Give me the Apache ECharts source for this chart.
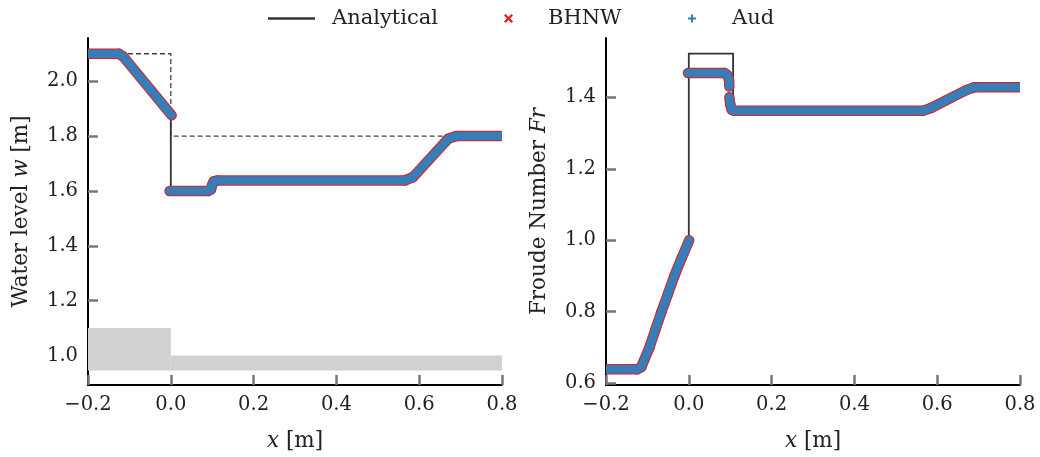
<!DOCTYPE html>
<html>
<head>
<meta charset="utf-8">
<script src="https://cdn.jsdelivr.net/npm/echarts@6/dist/echarts.min.js"></script>
<style>html,body{margin:0;padding:0;background:#fff;}#c{width:1040px;height:457px;}</style>
</head>
<body>
<div id="c"></div>
<script>
// ---------- data ----------
const xTicks = [-0.2, 0.0, 0.2, 0.4, 0.6, 0.8];
const wTicks = [1.0, 1.2, 1.4, 1.6, 1.8, 2.0];
const frTicks = [0.6, 0.8, 1.0, 1.2, 1.4];

// bed (gray blocks): [x0, x1, top, base]
const bedBlocks = [[-0.2, 0.0, 1.1, 0.945], [0.0, 0.8, 1.0, 0.945]];

// dashed initial water level
const initX = [-0.2, 0.0, 0.0, 0.8];
const initW = [2.1, 2.1, 1.8, 1.8];

// analytical water level
const anaWX = [-0.2, -0.12, -0.09, -0.06, -0.03, 0.0, 0.0, 0.107, 0.107, 0.575, 0.6, 0.63, 0.66, 0.68, 0.8];
const anaW  = [2.1, 2.1, 2.047, 1.991, 1.934, 1.876, 1.6, 1.6, 1.638, 1.638, 1.672, 1.716, 1.762, 1.8, 1.8];

// numerical water level (BHNW and Aud overlap)
const numWX = [-0.2, -0.125, -0.115, 0.002, 0.002, -0.003, 0.09, 0.097, 0.1, 0.104, 0.112, 0.565, 0.585, 0.67, 0.69, 0.8];
const numW  = [2.1, 2.1, 2.09, 1.876, '-', 1.6, 1.6, 1.605, 1.622, 1.635, 1.638, 1.638, 1.65, 1.79, 1.8, 1.8];

// analytical Froude number
const anaFX = [-0.2, -0.12, -0.095, -0.066, -0.035, 0.0, 0.0, 0.107, 0.107, 0.575, 0.68, 0.8];
const anaF  = [0.639, 0.639, 0.70, 0.80, 0.90, 0.99, 1.522, 1.522, 1.362, 1.362, 1.428, 1.428];

// numerical Froude number
const numFX = [-0.2, -0.125, -0.115, -0.095, -0.08, -0.066, -0.05, -0.035, -0.017, 0.001, 0.001, -0.002, 0.086, 0.093, 0.097, 0.098, 0.098, 0.098, 0.1, 0.104, 0.11, 0.565, 0.585, 0.67, 0.69, 0.8];
const numF  = [0.639, 0.639, 0.645, 0.70, 0.752, 0.80, 0.851, 0.90, 0.951, 1.0, '-', 1.468, 1.468, 1.462, 1.45, 1.43, '-', 1.40, 1.38, 1.365, 1.362, 1.362, 1.37, 1.42, 1.428, 1.428];

// ---------- helpers ----------
const pairs = (xs, ys) => xs.map((x, i) => [x, ys[i]]);
const FONT = 'DejaVu Serif';
const TXT = '#222';
const fmt = v => (Math.round(v * 10) / 10).toFixed(1).replace('-', '\u2212');
const nameStyle = {color: TXT, fontFamily: FONT, fontSize: 21.5,
  rich: {i: {fontStyle: 'italic', fontFamily: FONT, fontSize: 21.5, color: TXT}}};

function xAxisCfg(gi) {
  return {
    type: 'value', gridIndex: gi, min: -0.2, max: 0.8,
    splitLine: {show: false},
    axisLine: {show: true, onZero: false, lineStyle: {color: '#000', width: 2}},
    axisTick: {show: true, inside: true, length: 10, customValues: xTicks, lineStyle: {color: '#777', width: 2.5}},
    axisLabel: {customValues: xTicks, formatter: fmt, color: TXT, fontFamily: FONT, fontSize: 19.5, margin: 10},
    name: '{i|x} [m]', nameLocation: 'middle', nameGap: 45, nameMoveOverlap: false,
    nameTextStyle: nameStyle
  };
}
function yAxisCfg(gi, min, max, ticks, name, gap) {
  return {
    type: 'value', gridIndex: gi, min: min, max: max,
    splitLine: {show: false},
    axisLine: {show: true, onZero: false, lineStyle: {color: '#000', width: 2}},
    axisTick: {show: true, inside: true, length: 10, customValues: ticks, lineStyle: {color: '#777', width: 2.5}},
    axisLabel: {customValues: ticks, formatter: fmt, color: TXT, fontFamily: FONT, fontSize: 19.5, margin: 10},
    name: name, nameLocation: 'middle', nameGap: gap, nameMoveOverlap: false,
    nameTextStyle: nameStyle
  };
}
function lineSeries(name, gi, data, color, width, z, extra) {
  return Object.assign({
    name: name, type: 'line', xAxisIndex: gi, yAxisIndex: gi, data: data,
    showSymbol: false, symbol: 'none', connectNulls: false, silent: true,
    itemStyle: {color: color},
    lineStyle: {color: color, width: width, cap: 'round', join: 'round'},
    z: z, animation: false
  }, extra || {});
}
// dense marker band: drawn as round-capped segments clipped to the plot area
function bandSeries(name, gi, xs, ys, color, width, z) {
  const segs = [];
  for (let i = 0; i < xs.length - 1; i++) {
    if (ys[i] !== '-' && ys[i + 1] !== '-') segs.push([xs[i], ys[i], xs[i + 1], ys[i + 1]]);
  }
  return {
    name: name, type: 'custom', xAxisIndex: gi, yAxisIndex: gi, data: segs, silent: true, z: z,
    encode: {x: [0, 2], y: [1, 3]}, itemStyle: {color: color},
    renderItem: function (params, api) {
      const a = api.coord([api.value(0), api.value(1)]);
      const b = api.coord([api.value(2), api.value(3)]);
      const cs = params.coordSys;
      return {
        type: 'line',
        shape: {x1: a[0], y1: a[1], x2: b[0], y2: b[1]},
        style: {stroke: color, lineWidth: width, lineCap: 'round', fill: null},
        clipPath: {type: 'rect', shape: {x: cs.x, y: cs.y, width: cs.width, height: cs.height}}
      };
    }
  };
}

const RED = '#e41a1c', BLUE = '#377eb8', ANA = '#333333';
const xIcon = 'path://M0,1.8 L1.8,0 L5,3.2 L8.2,0 L10,1.8 L6.8,5 L10,8.2 L8.2,10 L5,6.8 L1.8,10 L0,8.2 L3.2,5 Z';
const plusIcon = 'path://M3.7,0 H6.3 V3.7 H10 V6.3 H6.3 V10 H3.7 V6.3 H0 V3.7 H3.7 Z';
const legTxt = {color: TXT, fontFamily: FONT, fontSize: 21};

const option = {
  backgroundColor: '#fff',
  animation: false,
  legend: [
    {data: [{name: 'Analytical', icon: 'rect', itemStyle: {color: ANA}}], left: 268, top: 8, padding: 0, itemWidth: 47, itemHeight: 2.5,
     itemStyle: {borderWidth: 0}, selectedMode: false, textStyle: Object.assign({padding: [0, 0, 0, 12]}, legTxt)},
    {data: [{name: 'BHNW', icon: xIcon, itemStyle: {color: RED}}], left: 504, top: 8, padding: 0, itemWidth: 9, itemHeight: 9,
     itemStyle: {borderWidth: 0}, selectedMode: false, textStyle: Object.assign({padding: [0, 0, 0, 30]}, legTxt)},
    {data: [{name: 'Aud', icon: plusIcon, itemStyle: {color: BLUE}}], left: 688, top: 8, padding: 0, itemWidth: 8, itemHeight: 8,
     itemStyle: {borderWidth: 0}, selectedMode: false, textStyle: Object.assign({padding: [0, 0, 0, 31]}, legTxt)}
  ],
  grid: [
    {left: 88, top: 38, width: 414, height: 348, containLabel: false},
    {left: 606, top: 38, width: 414, height: 348, containLabel: false}
  ],
  xAxis: [xAxisCfg(0), xAxisCfg(1)],
  yAxis: [
    yAxisCfg(0, 0.8925, 2.1575, wTicks, 'Water level {i|w} [m]', 56),
    yAxisCfg(1, 0.5949, 1.5659, frTicks, 'Froude Number {i|Fr}', 56)
  ],
  series: [
    {
      type: 'custom', xAxisIndex: 0, yAxisIndex: 0, silent: true, z: 1,
      data: bedBlocks, encode: {x: [0, 1], y: [2, 3]},
      renderItem: function (params, api) {
        const p0 = api.coord([api.value(0), api.value(2)]);
        const p1 = api.coord([api.value(1), api.value(3)]);
        return {type: 'rect', shape: {x: p0[0], y: p0[1], width: p1[0] - p0[0], height: p1[1] - p0[1]},
                style: {fill: '#d0d2d2'}};
      }
    },
    lineSeries('Initial', 0, pairs(initX, initW), '#444', 1.3, 2, {lineStyle: {color: '#444', width: 1.3, type: [5, 3]}}),
    lineSeries('Analytical', 0, pairs(anaWX, anaW), ANA, 1.8, 3, {lineStyle: {color: ANA, width: 1.8, cap: 'butt', join: 'miter'}}),
    bandSeries('BHNW', 0, numWX, numW, RED, 10.5, 4),
    bandSeries('Aud', 0, numWX, numW, BLUE, 8.5, 5),
    lineSeries('Analytical', 1, pairs(anaFX, anaF), ANA, 1.8, 3, {lineStyle: {color: ANA, width: 1.8, cap: 'butt', join: 'miter'}}),
    bandSeries('BHNW', 1, numFX, numF, RED, 10.5, 4),
    bandSeries('Aud', 1, numFX, numF, BLUE, 8.5, 5)
  ]
};

const chart = echarts.init(document.getElementById('c'), null, {renderer: 'canvas'});
chart.setOption(option);
</script>
</body>
</html>
